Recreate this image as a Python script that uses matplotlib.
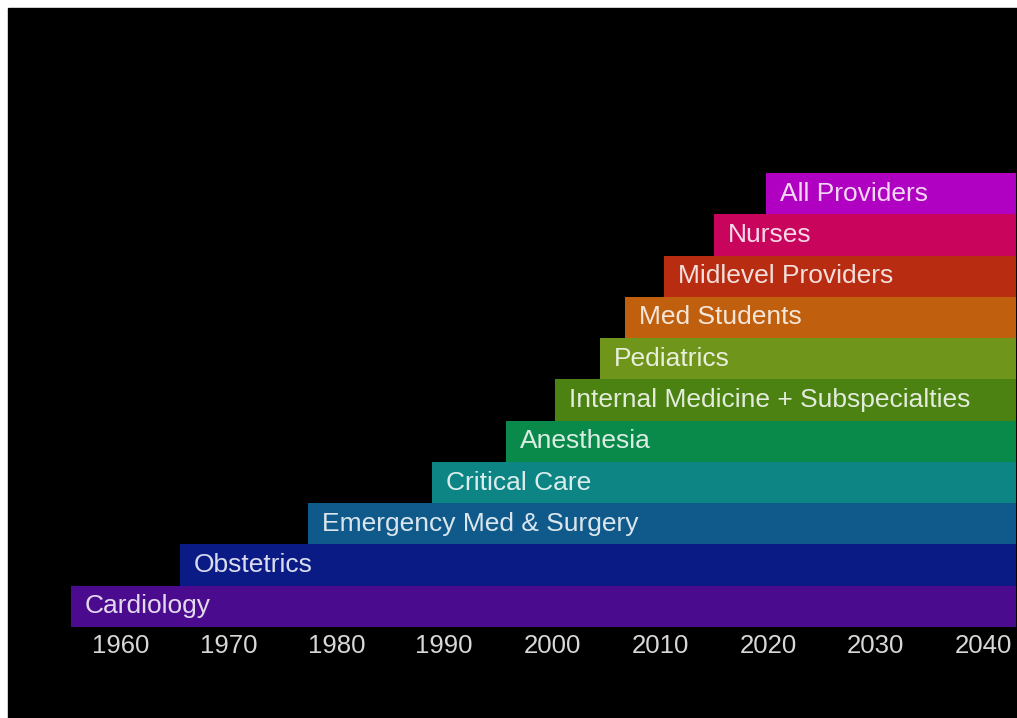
import matplotlib
matplotlib.use('Agg')
import matplotlib.pyplot as plt
from matplotlib.patches import Rectangle

# groups from bottom to top, with the year each one starts
groups = ['Cardiology', 'Obstetrics', 'Emergency Med & Surgery', 'Critical Care',
          'Anesthesia', 'Internal Medicine + Subspecialties', 'Pediatrics',
          'Med Students', 'Midlevel Providers', 'Nurses', 'All Providers']
start_year = [1955.4, 1965.5, 1977.4, 1988.9, 1995.7, 2000.3, 2004.4,
              2006.8, 2010.4, 2015.0, 2019.8]
end_year = 2043
colors = ['#4b0b8e', '#0b1b86', '#0f5a8b', '#0d8584', '#0a8a4a', '#4b8212',
          '#6f951b', '#c0600e', '#b82c12', '#c8045c', '#b000c2']
ticks = [1960, 1970, 1980, 1990, 2000, 2010, 2020, 2030, 2040]

plt.rcParams['font.family'] = ['Liberation Sans', 'DejaVu Sans']

W, H = 1017, 718
fig = plt.figure(figsize=(W / 100, H / 100), dpi=100, facecolor='white')
# black panel, white strip along top and left edges
fig.patches.append(Rectangle((8 / W, 0), 1 - 8 / W, (H - 8) / H,
                             transform=fig.transFigure, color='black', zorder=-5))

ax = fig.add_axes([12.6 / W, (H - 627) / H, (1016.1 - 12.6) / W, (627 - 173) / H])
ax.set_facecolor('none')

for i, (g, s) in enumerate(zip(groups, start_year)):
    ax.barh(i, end_year - s, left=s, height=1.0, color=colors[i], linewidth=0)
    ax.annotate(g, (s, i), xytext=(10, 0), textcoords='offset points',
                ha='left', va='center', fontsize=19, color='white', alpha=0.85)

ax.set_xlim(1950, end_year)
ax.set_ylim(-0.5, len(groups) - 0.5)
ax.set_xticks(ticks)
ax.set_xticklabels([str(t) for t in ticks], fontsize=18.5, color='#d8d8d8')
ax.tick_params(axis='x', length=0, pad=5)
ax.set_yticks([])
for sp in ax.spines.values():
    sp.set_visible(False)

fig.savefig('out.png', dpi=100, facecolor=fig.get_facecolor())
